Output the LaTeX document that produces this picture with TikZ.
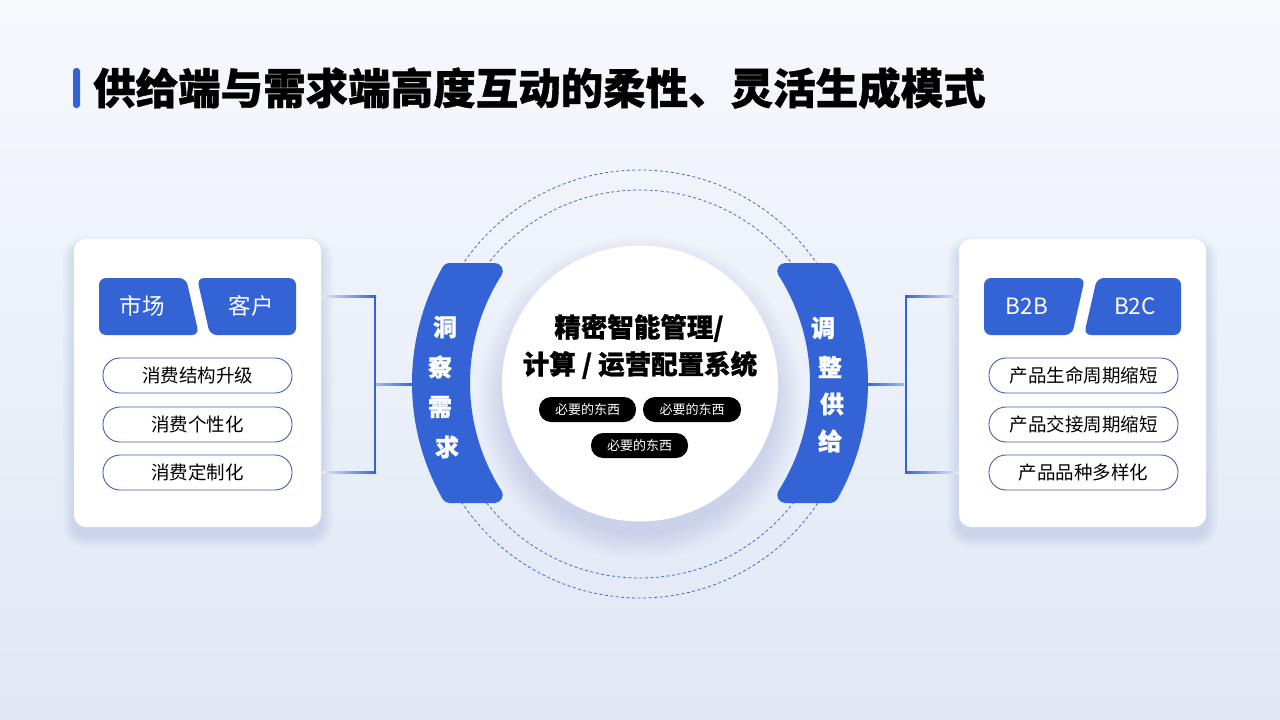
\documentclass[tikz,border=0pt]{standalone}
\usepackage{fontspec}
\setmainfont{Noto Sans CJK SC}
\newfontfamily\heavyfont[FakeBold=0.9]{Noto Sans CJK SC}
\usetikzlibrary{calc}
\definecolor{brand}{RGB}{52,99,213}
\definecolor{bgtop}{RGB}{246,248,252}
\definecolor{bgbot}{RGB}{224,232,245}
\definecolor{pillline}{RGB}{62,95,175}
\definecolor{fadec}{RGB}{230,236,247}
\definecolor{midfade}{RGB}{165,185,232}
\definecolor{shadowc}{RGB}{140,160,205}
\definecolor{dashc}{RGB}{70,105,200}
\begin{document}
\begin{tikzpicture}[x=1pt,y=-1pt,
  card/.style={fill=white, rounded corners=12pt, minimum width=247pt, minimum height=288pt, inner sep=0pt},
  pill/.style={draw=pillline, line width=0.9pt, fill=white, rounded corners=17pt, minimum width=189pt, minimum height=35pt, inner sep=0pt, font=\fontsize{18.5}{20}\selectfont},
  bpill/.style={fill=black, text=white, rounded corners=12pt, minimum height=25pt, inner sep=0pt, font=\fontsize{13}{14}\selectfont},
  tab/.style={fill=brand, rounded corners=7pt},
  tabtext/.style={text=white, font=\fontsize{22.5}{24}\selectfont, inner sep=0pt},
  bandtext/.style={text=white, font=\heavyfont\bfseries\fontsize{24}{26}\selectfont, inner sep=0pt},
  band/.style={fill=brand, draw=brand, line width=16pt, line join=round},
  ring/.style={draw=dashc, line width=0.8pt, dash pattern=on 3pt off 2.5pt},
  coretext/.style={font=\heavyfont\bfseries\fontsize{26.5}{30}\selectfont, inner sep=0pt},
]
\useasboundingbox (0,0) rectangle (1280,720);
\shade[top color=bgtop, bottom color=bgbot] (0,0) rectangle (1280,720);

% title
\fill[brand, rounded corners=3pt] (73,68) rectangle (80,108);
\node[anchor=west, inner sep=0pt, font=\heavyfont\bfseries\fontsize{42.5}{48}\selectfont] (title) at (93,88) {供给端与需求端高度互动的柔性、灵活生成模式};

% dashed rings
\draw[ring] (640,384) circle[radius=214];
\draw[ring] (640,384) circle[radius=194];

% card shadows
\foreach \k in {1,...,12} {
  \pgfmathsetmacro\rr{12+\k}
  \fill[shadowc, opacity=0.022, rounded corners=\rr pt] (74-\k, 239-\k+9) rectangle (321+\k, 527+\k+9);
  \fill[shadowc, opacity=0.022, rounded corners=\rr pt] (959-\k, 239-\k+9) rectangle (1206+\k, 527+\k+9);
}
% core shadow
\foreach \k in {1,...,14} {
  \fill[shadowc, opacity=0.02] (640,398) circle[radius=134+2*\k];
}

% cards
\node[card] (lcard) at (197.5,383) {};
\node[card] (rcard) at (1082.5,383) {};

% left tabs
\fill[tab] (99,278) -- (186,278) -- (199,335) -- (99,335) -- cycle;
\fill[tab] (197,278) -- (296,278) -- (296,335) -- (210,335) -- cycle;
\node[tabtext] (market) at (142,306) {市场};
\node[tabtext] (client) at (251,306) {客户};

% right tabs
\fill[tab] (984,278) -- (1085,278) -- (1072,335) -- (984,335) -- cycle;
\fill[tab] (1097,278) -- (1181,278) -- (1181,335) -- (1084,335) -- cycle;
\node[tabtext] (btob) at (1027,306) {B2B};
\node[tabtext] (btoc) at (1135,306) {B2C};

% pills
\node[pill] (l1) at (197.5,375.5) {消费结构升级};
\node[pill] (l2) at (197.5,424.5) {消费个性化};
\node[pill] (l3) at (197.5,472.5) {消费定制化};
\node[pill] (r1) at (1083.5,375.5) {产品生命周期缩短};
\node[pill] (r2) at (1083.5,424.5) {产品交接周期缩短};
\node[pill] (r3) at (1083.5,472.5) {产品品种多样化};

% core
\node[circle, fill=white, minimum size=276pt, inner sep=0pt] (core) at (640,383.5) {};
\node[coretext] (ct1) at (639,328) {精密智能管理/};
\node[coretext] (ct2) at (640,365) {计算 / 运营配置系统};
\node[bpill, minimum width=97pt] (p1) at (587.5,409.5) {必要的东西};
\node[bpill, minimum width=98pt] (p2) at (692,409.5) {必要的东西};
\node[bpill, minimum width=97pt] (p3) at (639.5,445.5) {必要的东西};

% bands (shrunk outline + thick round-joined stroke = rounded corners)
\path[band] (449.55,271) -- (494.73,271)
  arc[start angle=212.58, end angle=147.42, radius=208] -- (449.55,495)
  arc[start angle=150.44, end angle=209.56, radius=227] -- cycle;
\path[band] (830.45,271) -- (785.27,271)
  arc[start angle=-32.58, end angle=32.58, radius=208] -- (830.45,495)
  arc[start angle=29.56, end angle=-29.56, radius=227] -- cycle;
\node[bandtext] (b1) at (445,327) {洞};
\node[bandtext] (b2) at (440,367) {察};
\node[bandtext] (b3) at (440,407) {需};
\node[bandtext] (b4) at (447,447) {求};
\node[bandtext] (s1) at (823,328) {调};
\node[bandtext] (s2) at (830,367) {整};
\node[bandtext] (s3) at (832,404) {供};
\node[bandtext] (s4) at (830,441) {给};

% left bracket connector
\coordinate (lA) at (lcard.east |- 0,296);
\coordinate (lB) at (375,296);
\coordinate (lC) at (375,472);
\coordinate (lD) at (lcard.east |- 0,472);
\coordinate (lM) at (376,384);
\coordinate (lE) at (413,384);
\shade[left color=fadec, right color=brand] ($(lA)+(0,-1)$) rectangle ($(lB)+(1,1)$);
\shade[left color=fadec, right color=brand] ($(lD)+(0,-1)$) rectangle ($(lC)+(1,1)$);
\fill[brand] ($(lB)+(-1,-1)$) rectangle ($(lC)+(1,1)$);
\shade[left color=midfade, right color=brand] ($(lM)+(0,-1)$) rectangle ($(lE)+(0,1)$);

% right bracket connector
\coordinate (rA) at (rcard.west |- 0,296);
\coordinate (rB) at (906,296);
\coordinate (rC) at (906,472);
\coordinate (rD) at (rcard.west |- 0,472);
\coordinate (rM) at (904,384);
\coordinate (rE) at (867,384);
\shade[left color=brand, right color=fadec] ($(rB)+(-1,-1)$) rectangle ($(rA)+(0,1)$);
\shade[left color=brand, right color=fadec] ($(rC)+(-1,-1)$) rectangle ($(rD)+(0,1)$);
\fill[brand] ($(rB)+(-1,-1)$) rectangle ($(rC)+(1,1)$);
\shade[left color=brand, right color=midfade] ($(rE)+(0,-1)$) rectangle ($(rM)+(0,1)$);
\end{tikzpicture}
\end{document}
